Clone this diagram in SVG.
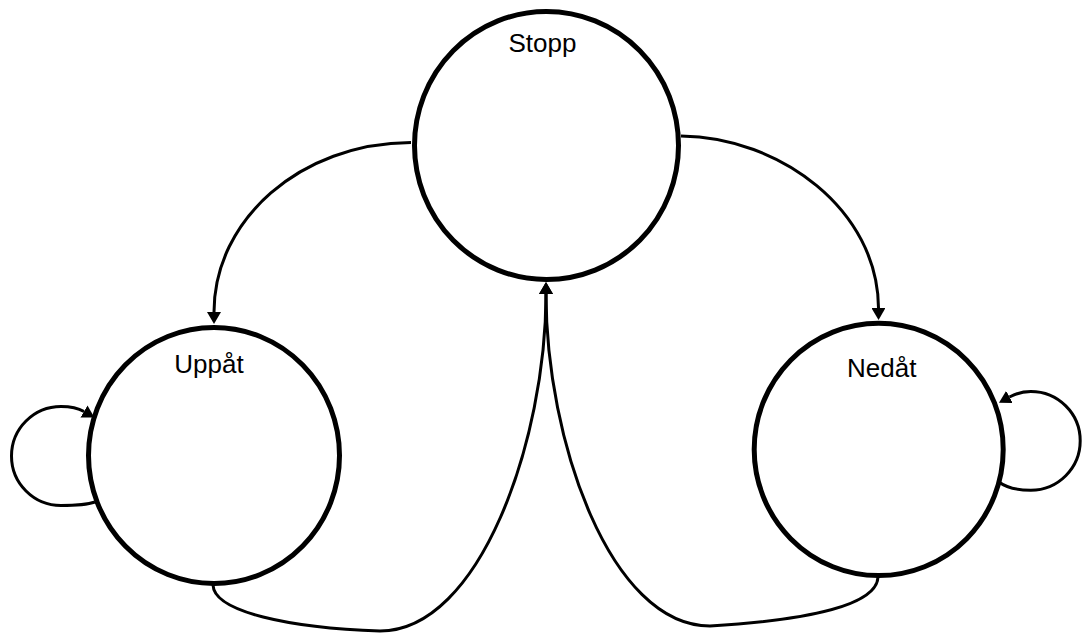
<svg xmlns="http://www.w3.org/2000/svg" width="1090" height="639" viewBox="0 0 1090 639">
  <style>
    .state { fill: none; stroke: #000; stroke-width: 5; }
    .label { font-family: "Liberation Sans", Arial, sans-serif; font-size: 26px; fill: #000; text-anchor: middle; }
    .edge { fill: none; stroke: #000; stroke-width: 3; marker-end: url(#arrow); }
  </style>
  <defs>
    <marker id="arrow" markerUnits="userSpaceOnUse" viewBox="0 0 12 14" refX="0" refY="7" markerWidth="12" markerHeight="14" orient="auto">
      <path d="M0,0 L12,7 L0,14 Z" fill="#000"/>
    </marker>
  </defs>
  <rect width="1090" height="639" fill="#fff"/>

  <g id="connectors">
    <!-- Stopp -> Uppåt -->
    <path class="edge" d="M411,142.5 C300,143 214,220 214,312"/>
    <!-- Stopp -> Nedåt -->
    <path class="edge" d="M681,136 C780,137 878,210 878.5,308"/>
    <!-- Uppåt -> Stopp -->
    <path class="edge" d="M213,585 C214,612 290,628 380,631 C480,631 546,440 546,294"/>
    <!-- Nedåt -> Stopp -->
    <path class="edge" d="M878,577 C877,605 810,620 710,626 C610,626 546,440 546,294"/>
    <!-- Uppåt self loop -->
    <path class="edge" d="M95,502 C85,505.5 72,505.5 61,505.5 C33.7,505.5 11.5,483.3 11.5,456 C11.5,428.7 33.7,406.5 61,406.5 C70,406.5 78,408 84,411.5"/>
    <!-- Nedåt self loop -->
    <path class="edge" d="M999,482 C1008,489 1020,490.2 1030.8,490.2 C1058.1,490.2 1080.2,468.1 1080.2,440.8 C1080.2,413.5 1058.1,391.5 1030.8,391.5 C1021,391.5 1015,394 1009.5,397"/>
  </g>

  <g id="stopp">
    <ellipse class="state" cx="546.5" cy="145.5" rx="132" ry="134"/>
    <text class="label" x="542.5" y="52">Stopp</text>
  </g>

  <g id="uppat">
    <ellipse class="state" cx="214" cy="455.5" rx="125.5" ry="128"/>
    <text class="label" x="209" y="372.5">Uppåt</text>
  </g>

  <g id="nedat">
    <ellipse class="state" cx="878.7" cy="449.4" rx="124.5" ry="126.2"/>
    <text class="label" x="881.7" y="376.5">Nedåt</text>
  </g>
</svg>
